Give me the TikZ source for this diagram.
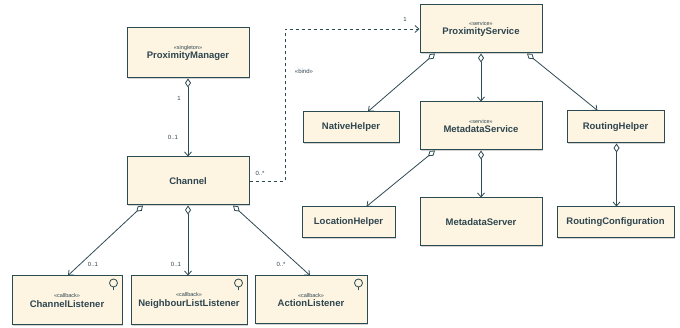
\documentclass[tikz,border=0pt]{standalone}
\usepackage{fontspec}
\setmainfont{Liberation Sans}
\usetikzlibrary{arrows.meta,shadows}
\definecolor{boxfill}{HTML}{FDF5E1}
\definecolor{boxline}{HTML}{2C4A52}
\definecolor{txt}{HTML}{2E4550}
\tikzset{
  umlbox/.style={draw=boxline, line width=1pt, fill=boxfill, inner sep=0pt,
    text=txt, align=center, font=\bfseries\fontsize{9.5}{10.5}\selectfont,
    drop shadow={shadow xshift=1.2pt, shadow yshift=-1.2pt, opacity=0.35}},
  agg/.style={draw=boxline, line width=0.8pt,
    {Diamond[open,length=9pt,width=6pt,line width=0.8pt]}-{Straight Barb[length=4pt,width=7pt,line width=0.8pt]}},
  mult/.style={text=txt, font=\fontsize{6}{7}\selectfont, inner sep=0pt},
  lolli/.style={draw=boxline, line width=0.8pt}
}
\newcommand{\stereo}[1]{{\fontsize{5.5}{6.5}\selectfont\mdseries <<#1>>}\\[-1pt]}
\begin{document}
\begin{tikzpicture}[x=1pt,y=-1pt]
\useasboundingbox (0,0) rectangle (680,328);
% boxes
\node[umlbox, minimum width=122pt, minimum height=50pt] (pm) at (188,53) {\stereo{singleton}ProximityManager};
\node[umlbox, minimum width=122pt, minimum height=48pt] (ch) at (188,181) {Channel};
\node[umlbox, minimum width=122pt, minimum height=48pt] (ps) at (481,29) {\stereo{service}ProximityService};
\node[umlbox, minimum width=96pt, minimum height=31pt] (nh) at (351,127.5) {NativeHelper};
\node[umlbox, minimum width=122pt, minimum height=48pt] (ms) at (481,126) {\stereo{service}MetadataService};
\node[umlbox, minimum width=97pt, minimum height=32pt] (rh) at (615.5,127) {RoutingHelper};
\node[umlbox, minimum width=93pt, minimum height=31pt] (lh) at (348.5,222.5) {LocationHelper};
\node[umlbox, minimum width=122pt, minimum height=48pt] (mse) at (481,222) {MetadataServer};
\node[umlbox, minimum width=117pt, minimum height=31pt] (rc) at (615.5,222.5) {RoutingConfiguration};
\node[umlbox, minimum width=110pt, minimum height=49pt] (cl) at (67,300.5) {\stereo{callback}ChannelListener};
\node[umlbox, minimum width=116pt, minimum height=49pt] (nl) at (189,300.5) {\stereo{callback}NeighbourListListener};
\node[umlbox, minimum width=112pt, minimum height=48pt] (al) at (311,300) {\stereo{callback}ActionListener};
% lollipops
\foreach \n in {cl,nl,al}{
  \draw[lolli] ([xshift=-9pt,yshift=-15pt]\n.north east) -- ([xshift=-9pt,yshift=-11.5pt]\n.north east);
  \draw[lolli] ([xshift=-9pt,yshift=-7.5pt]\n.north east) circle[radius=4pt];
}
% connectors
\draw[agg] (pm.south) -- (ch.north);
\draw[agg] ([xshift=-45pt]ch.south) -- ([xshift=1pt]cl.north);
\draw[agg] (ch.south) -- ([xshift=-1pt]nl.north);
\draw[agg] ([xshift=45pt]ch.south) -- ([xshift=-1pt]al.north);
\draw[agg] ([xshift=-46pt]ps.south) -- ([xshift=17pt]nh.north);
\draw[agg] (ps.south) -- (ms.north);
\draw[agg] ([xshift=46pt]ps.south) -- ([xshift=-18pt]rh.north);
\draw[agg] ([xshift=-46pt]ms.south) -- ([xshift=18pt]lh.north);
\draw[agg] (ms.south) -- (mse.north);
\draw[agg] ([xshift=1pt]rh.south) -- ([xshift=1pt]rc.north);
\coordinate (b1) at (285,181);
\coordinate (b2) at (285,29);
\draw[boxline, line width=0.8pt, dash pattern=on 3.5pt off 2.5pt, -{Straight Barb[length=4pt,width=7pt,line width=0.8pt]}]
  (ch.east) -- (b1) -- (b2) -- (ps.west);
% labels
\node[mult] (m1) at (179,98) {1};
\node[mult] (m2) at (173,137) {0..1};
\node[mult] (m3) at (93,264) {0..1};
\node[mult] (m4) at (176,264) {0..1};
\node[mult] (m5) at (281,264) {0..*};
\node[mult] (m6) at (260,173) {0..*};
\node[mult] (m7) at (405,19) {1};
\node[mult] (m8) at (304,71) {«bind»};
\end{tikzpicture}
\end{document}
